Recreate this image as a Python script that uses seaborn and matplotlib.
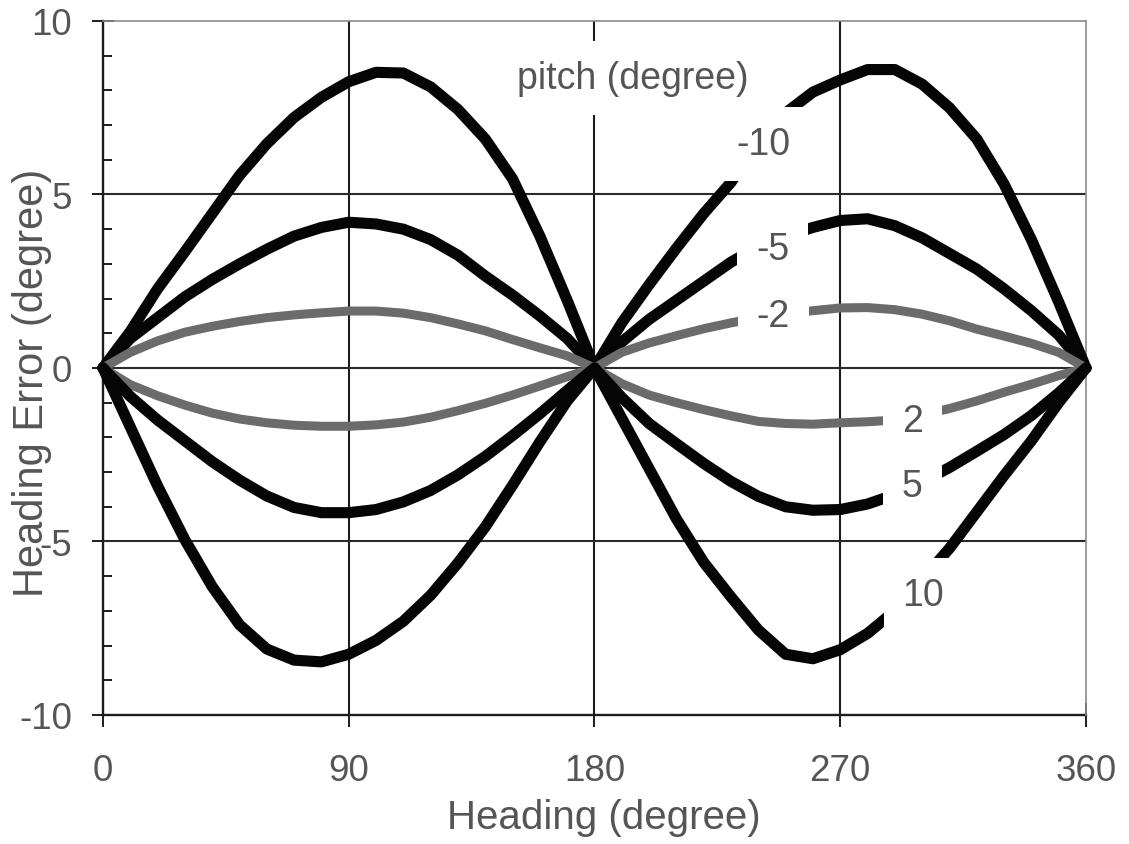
import matplotlib
matplotlib.use("Agg")
import matplotlib.pyplot as plt
import seaborn as sns
from matplotlib.ticker import MultipleLocator, FixedLocator

# Heading (degree) at which the error was sampled
heading = list(range(0, 361, 10))

# Heading error (degree) for each pitch angle
err_pitch_m10 = [0, 1.05, 2.28, 3.35, 4.45, 5.55, 6.46, 7.22, 7.8, 8.25, 8.52, 8.5, 8.1,
                 7.45, 6.6, 5.45, 3.8, 1.95, 0, 1.3, 2.4, 3.45, 4.45, 5.35, 6.5, 7.35,
                 7.95, 8.3, 8.6, 8.6, 8.18, 7.5, 6.6, 5.3, 3.7, 1.9, 0]
err_pitch_m5 = [0, 0.85, 1.45, 2.05, 2.55, 3.0, 3.42, 3.8, 4.05, 4.2, 4.15, 4.0, 3.7,
                3.25, 2.65, 2.1, 1.5, 0.85, 0, 0.75, 1.4, 1.95, 2.5, 3.05, 3.5, 3.8,
                4.05, 4.25, 4.3, 4.1, 3.75, 3.3, 2.85, 2.28, 1.65, 0.95, 0]
err_pitch_m2 = [0, 0.45, 0.78, 1.03, 1.2, 1.34, 1.45, 1.53, 1.59, 1.64, 1.64, 1.58, 1.45,
                1.27, 1.07, 0.82, 0.58, 0.35, 0, 0.45, 0.72, 0.93, 1.13, 1.3, 1.45, 1.57,
                1.65, 1.73, 1.74, 1.68, 1.55, 1.36, 1.12, 0.92, 0.71, 0.45, 0]
err_pitch_p2 = [0, -0.48, -0.8, -1.07, -1.3, -1.47, -1.58, -1.65, -1.68, -1.68, -1.64, -1.56,
                -1.42, -1.23, -1.02, -0.78, -0.52, -0.25, 0, -0.45, -0.78, -1.0, -1.2, -1.38,
                -1.54, -1.6, -1.62, -1.58, -1.55, -1.5, -1.35, -1.17, -0.95, -0.7, -0.47,
                -0.22, 0]
err_pitch_p5 = [0, -0.82, -1.5, -2.1, -2.7, -3.23, -3.69, -4.02, -4.17, -4.17, -4.08, -3.86,
                -3.53, -3.08, -2.55, -1.95, -1.32, -0.65, 0, -0.85, -1.6, -2.18, -2.75, -3.27,
                -3.7, -4.0, -4.1, -4.08, -3.92, -3.65, -3.28, -2.87, -2.4, -1.92, -1.37,
                -0.72, 0]
err_pitch_p10 = [0, -1.7, -3.4, -4.95, -6.3, -7.4, -8.1, -8.42, -8.47, -8.25, -7.85, -7.3,
                 -6.55, -5.62, -4.58, -3.38, -2.13, -0.95, 0, -1.45, -2.9, -4.35, -5.6, -6.6,
                 -7.55, -8.25, -8.38, -8.12, -7.65, -7.0, -6.1, -5.2, -4.15, -3.1, -2.1,
                 -1.0, 0]

pitch_names = ["-10", "-5", "-2", "2", "5", "10"]
# where each pitch name sits on the chart (heading, error)
pitch_name_x = [241.8, 245.3, 245.5, 296.4, 296.4, 300.4]
pitch_name_y = [6.45, 3.42, 1.5, -1.53, -3.41, -6.54]

x_ticks = [0, 90, 180, 270, 360]
y_ticks = [-10, -5, 0, 5, 10]

BLACK = "#050505"
GREY = "#6b6b6b"
TEXT = "#555555"
DARK = "#1c1c1c"

sns.set_style("ticks")
plt.rcParams["font.family"] = ["Liberation Sans", "DejaVu Sans"]
plt.rcParams["axes.unicode_minus"] = False

fig = plt.figure(figsize=(11.29, 8.45), dpi=100)
ax = fig.add_axes([0.0912, 0.1527, 0.8707, 0.8213])

# interior grid
for gx in x_ticks[1:-1]:
    ax.axvline(gx, color=DARK, lw=1.5, zorder=1)
for gy in y_ticks[1:-1]:
    ax.axhline(gy, color="#2a2a2a", lw=1.5, zorder=1)

curves = [
    (err_pitch_m10, BLACK, 8.0),
    (err_pitch_m5, BLACK, 8.0),
    (err_pitch_m2, GREY, 6.5),
    (err_pitch_p2, GREY, 6.5),
    (err_pitch_p5, BLACK, 8.0),
    (err_pitch_p10, BLACK, 8.0),
]
for vals, col, lw in curves:
    sns.lineplot(x=heading, y=vals, ax=ax, color=col, linewidth=lw, errorbar=None,
                 legend=False, zorder=3, clip_on=False, solid_capstyle="round",
                 solid_joinstyle="round")

label_box = dict(boxstyle="square,pad=0.5", fc="white", ec="none")
for name, tx, ty in zip(pitch_names, pitch_name_x, pitch_name_y):
    ax.text(tx, ty, name, fontsize=27, color=TEXT, ha="center", va="center",
            zorder=10, bbox=label_box)
ax.text(193.9, 8.36, "pitch (degree)", fontsize=27, color=TEXT, ha="center",
        va="center", zorder=10, bbox=label_box)

ax.set_xlim(0, 360)
ax.set_ylim(-10, 10)
ax.xaxis.set_major_locator(FixedLocator(x_ticks))
ax.yaxis.set_major_locator(FixedLocator(y_ticks))
ax.yaxis.set_minor_locator(MultipleLocator(1))

ax.tick_params(axis="x", which="major", direction="inout", length=17, width=1.4,
               color=DARK, labelsize=26.5, labelcolor=TEXT, pad=19)
ax.tick_params(axis="y", which="major", direction="inout", length=16.5, width=1.4,
               color=DARK, labelsize=26.5, labelcolor=TEXT, pad=14)
ax.tick_params(axis="y", which="minor", direction="in", length=6.5, width=1.4,
               color=DARK)

for side in ("left", "bottom"):
    ax.spines[side].set_color(DARK)
    ax.spines[side].set_linewidth(1.7)
    ax.spines[side].set_zorder(2)
for side in ("top", "right"):
    ax.spines[side].set_visible(True)
    ax.spines[side].set_color("#8a8a8a")
    ax.spines[side].set_linewidth(1.2)

ax.set_xlabel("Heading (degree)", fontsize=29, color=TEXT)
ax.set_ylabel("Heading Error (degree)", fontsize=30, color=TEXT)
ax.xaxis.set_label_coords(0.509, -0.12)
ax.yaxis.set_label_coords(-0.052, 0.48)

fig.savefig("out.png", dpi=100, facecolor="white")
